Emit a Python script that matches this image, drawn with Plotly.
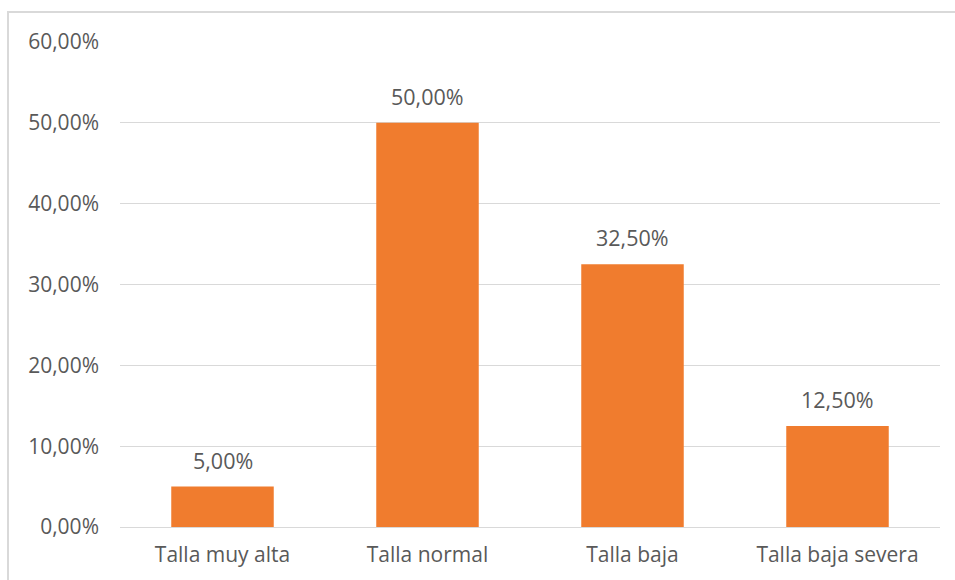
import plotly.graph_objects as go

categories = ["Talla muy alta", "Talla normal", "Talla baja", "Talla baja severa"]
values = [5.00, 50.00, 32.50, 12.50]
tick_vals = [0, 10, 20, 30, 40, 50, 60]
tick_text = ["0,00%", "10,00%", "20,00%", "30,00%", "40,00%", "50,00%", "60,00%"]
labels = [f"{v:.2f}%".replace(".", ",") for v in values]

FONT = "Open Sans"
TXT = "#595959"

fig = go.Figure()
fig.add_trace(go.Bar(
    x=categories, y=values,
    marker=dict(color="#F07C2E", line=dict(width=0)),
    hoverinfo="skip",
))

annotations = [
    dict(x=c, y=v, text=t, showarrow=False, xref="x", yref="y",
         yanchor="bottom", yshift=10, font=dict(family=FONT, size=21.5, color=TXT))
    for c, v, t in zip(categories, values, labels)
]

fig.update_layout(
    width=955, height=580,
    margin=dict(l=120, r=15, t=42, b=53),
    paper_bgcolor="white", plot_bgcolor="white",
    showlegend=False,
    bargap=0.5,
    annotations=annotations,
    font=dict(family=FONT, size=21, color=TXT),
    xaxis=dict(showgrid=False, showline=True, linecolor="#D9D9D9", linewidth=1,
               ticks="", tickfont=dict(family=FONT, size=21, color=TXT),
               ticklabelstandoff=9),
    yaxis=dict(range=[0, 60], tickvals=tick_vals, ticktext=tick_text,
               showgrid=True, gridcolor="#D9D9D9", gridwidth=1,
               zeroline=False, showline=False, ticks="",
               tickfont=dict(family=FONT, size=21, color=TXT),
               ticklabelstandoff=20),
    shapes=[dict(type="rect", xref="paper", yref="paper",
                 x0=-0.1366, x1=1.03, y0=-0.14, y1=1.0619,
                 line=dict(color="#D9D9D9", width=2), fillcolor="rgba(0,0,0,0)",
                 layer="below")],
)

fig.write_html("out.html")
